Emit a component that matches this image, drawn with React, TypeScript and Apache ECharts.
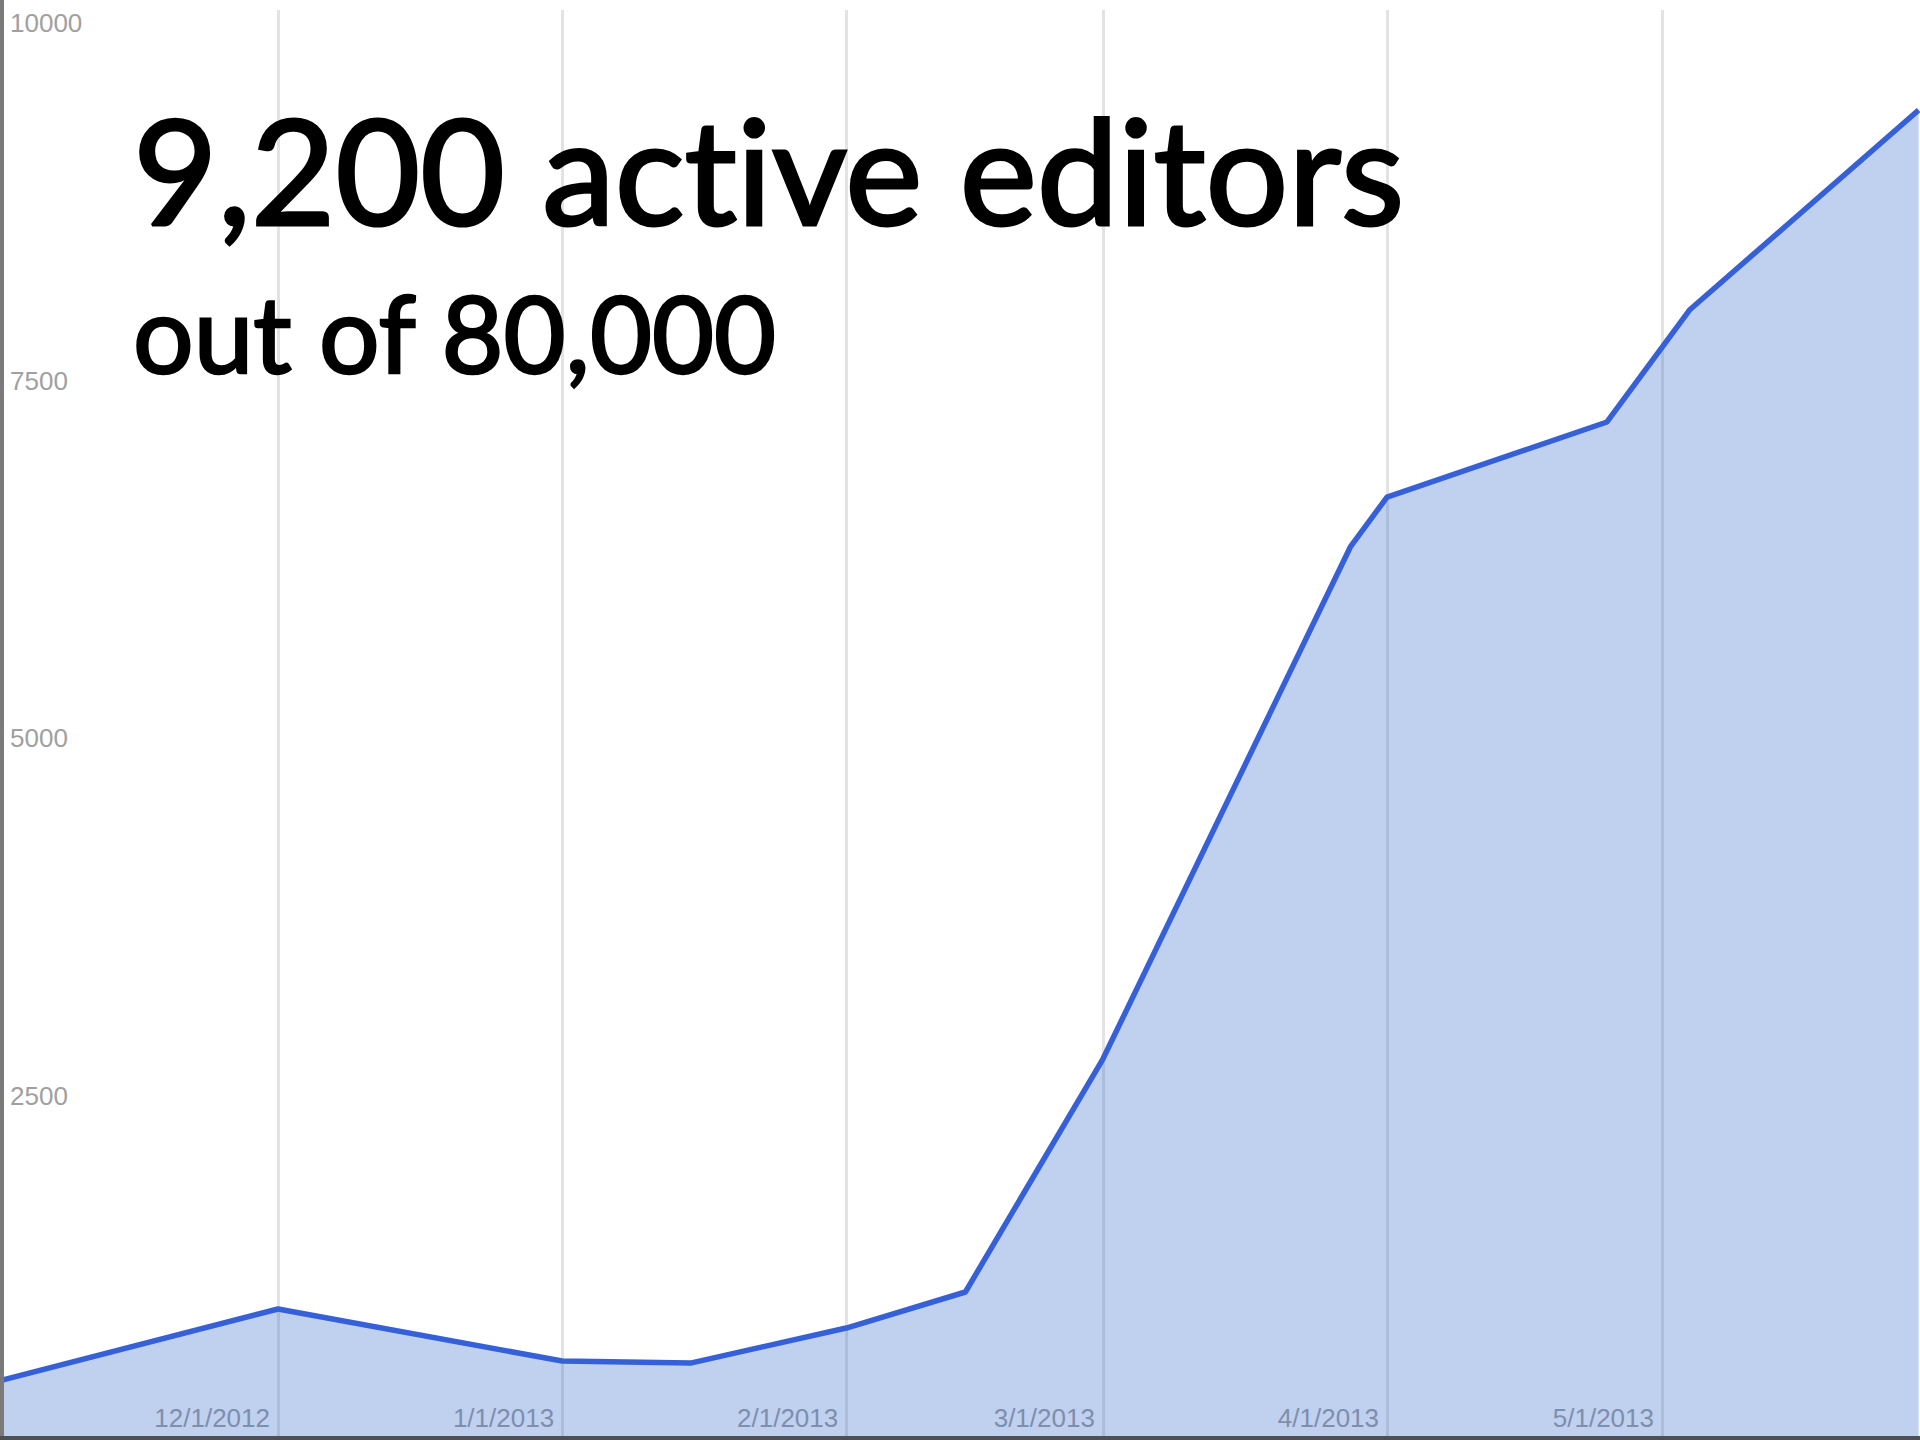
import React, { useEffect, useRef } from "react";
import * as echarts from "echarts";

// ---- data ----
const dates: string[] = [
  "2012-11-01", "2012-12-01", "2013-01-01", "2013-01-15", "2013-02-01", "2013-02-14",
  "2013-03-01", "2013-03-28", "2013-04-01", "2013-04-25", "2013-05-04", "2013-05-29",
];
const activeEditors: number[] = [420, 916, 552, 538, 783, 1035, 2664, 6245, 6594, 7119, 7902, 9300];
const monthTicks: string[] = ["2012-12-01", "2013-01-01", "2013-02-01", "2013-03-01", "2013-04-01", "2013-05-01"];
const yMin = 0;
const yMax = 10000;
const yInterval = 2500;
const headline = "9,200 active editors";
const subline = "out of 80,000";

const toMs = (s: string) => {
  const [y, m, d] = s.split("-").map(Number);
  return Date.UTC(y, m - 1, d);
};
const DAY = 86400000;

export default function App() {
  const ref = useRef<HTMLDivElement>(null);
  useEffect(() => {
    document.body.style.margin = "0";
    const st = document.createElement("style");
    st.textContent =
      "svg text, svg tspan { font-variant-ligatures: none !important; font-feature-settings: 'liga' 0, 'clig' 0, 'dlig' 0, 'calt' 0 !important; }";
    document.head.appendChild(st);
    if (!ref.current) return;
    const chart = echarts.init(ref.current, null, { renderer: "svg" });
    const tickMs = monthTicks.map(toMs);
    const xMin = toMs("2012-12-01") - 30.33 * DAY;
    const xMax = toMs("2013-05-01") + 28.15 * DAY;
    const labelFont = "'Liberation Sans Narrow', 'Arial Narrow', 'Liberation Sans', Arial, sans-serif";
    const fmt = (v: number) => {
      const d = new Date(v);
      return `${d.getUTCMonth() + 1}/${d.getUTCDate()}/${d.getUTCFullYear()}`;
    };
    chart.setOption({
      animation: false,
      backgroundColor: "#ffffff",
      grid: { left: 0, right: 0, top: 10, bottom: 0, containLabel: false, outerBoundsMode: "none" },
      xAxis: {
        type: "value",
        min: xMin,
        max: xMax,
        axisLine: { show: false },
        axisTick: { show: false, customValues: tickMs },
        axisLabel: {
          customValues: tickMs,
          inside: true,
          formatter: fmt,
          align: "right",
          padding: [0, 8, 0, 0],
          margin: 9,
          color: "#a0a0a0",
          fontSize: 26,
          fontFamily: labelFont,
          textBorderColor: "rgba(255,255,255,0.7)",
          textBorderWidth: 3,
          hideOverlap: false,
        },
        splitLine: { show: true, lineStyle: { color: "#e3e3e3", width: 3 } },
      },
      yAxis: {
        type: "value",
        min: yMin,
        max: yMax,
        interval: yInterval,
        axisLine: { show: false },
        axisTick: { show: false },
        axisLabel: {
          inside: true,
          margin: 10,
          align: "left",
          verticalAlign: "top",
          showMinLabel: false,
          formatter: (v: number) => String(v),
          color: "#a0a0a0",
          fontSize: 26,
          fontFamily: labelFont,
        },
        splitLine: { show: false },
      },
      series: [
        {
          type: "line",
          data: dates.map((d, i) => [toMs(d), activeEditors[i]]),
          symbol: "none",
          lineStyle: { color: "#3560d8", width: 5.5 },
          itemStyle: { color: "#3560d8" },
          areaStyle: { color: "rgba(51,102,204,0.31)", opacity: 1 },
        },
      ],
      graphic: [
        { type: "rect", left: 0, top: 0, shape: { width: 4, height: 1440 }, style: { fill: "#7a7a7a" }, z: 100 },
        { type: "rect", left: 0, top: 1436, shape: { width: 1920, height: 4 }, style: { fill: "#4d5156" }, z: 100 },
        {
          type: "text",
          x: 133,
          y: 168,
          style: {
            text: headline,
            font: "normal 146px Lato",
            fill: "#000",
            stroke: "#000",
            lineWidth: 3,
            verticalAlign: "middle",
          },
          z: 100,
        },
        {
          type: "text",
          x: 133,
          y: 331,
          style: {
            text: subline,
            font: "normal 107px Lato",
            fill: "#000",
            stroke: "#000",
            lineWidth: 2.5,
            verticalAlign: "middle",
          },
          z: 100,
        },
      ],
    });
    return () => chart.dispose();
  }, []);
  return <div ref={ref} style={{ width: 1920, height: 1440 }} />;
}
